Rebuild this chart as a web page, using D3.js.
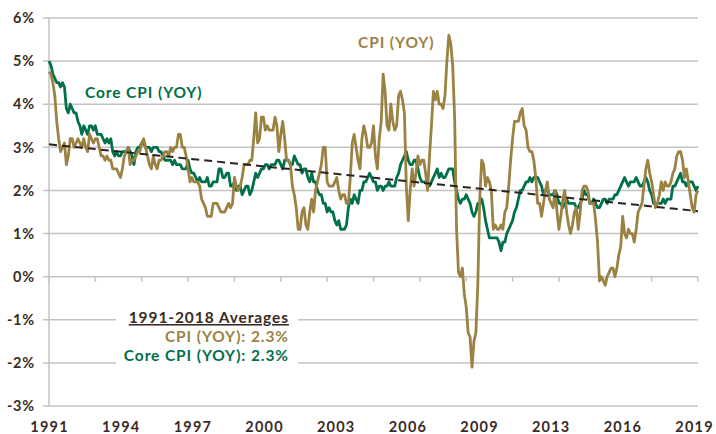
<!DOCTYPE html>
<html><head><meta charset="utf-8">
<script src="https://cdn.jsdelivr.net/npm/d3@7"></script>
<style>
html,body{margin:0;padding:0;background:#fff;}
svg{display:block;font-family:Lato,"Open Sans",sans-serif;font-weight:700;}
</style></head>
<body><svg id="c" width="716" height="434"></svg>
<script>
// Monthly data, Apr 1991 .. Apr 2019 (337 months)
const cpi = [
 4.75,4.7,4.5,4.2,3.6,3.2,2.9,3.0,3.1,
 2.6,2.8,3.2,3.2,3.0,3.1,3.2,3.1,3.0,3.2,3.0,2.9,
 3.3,3.2,3.1,3.2,3.2,3.0,2.8,2.8,2.7,2.8,2.7,2.7,
 2.5,2.5,2.5,2.4,2.3,2.5,2.8,2.9,3.0,2.6,2.7,2.7,
 2.8,2.9,2.9,3.1,3.2,3.0,2.8,2.6,2.5,2.8,2.6,2.5,
 2.7,2.7,2.8,2.9,2.9,2.8,3.0,2.9,3.0,3.0,3.3,3.3,
 3.0,3.0,2.8,2.5,2.2,2.3,2.2,2.2,2.2,2.1,1.8,1.7,
 1.6,1.4,1.4,1.4,1.7,1.7,1.7,1.6,1.5,1.5,1.5,1.6,
 1.7,1.6,1.7,2.3,2.1,2.0,2.1,2.3,2.6,2.6,2.6,2.7,
 2.7,3.2,3.8,3.1,3.2,3.7,3.7,3.4,3.5,3.4,3.4,3.4,
 3.7,3.5,2.9,3.3,3.6,3.2,2.7,2.7,2.6,2.1,1.9,1.6,
 1.1,1.1,1.5,1.6,1.2,1.1,1.5,1.8,1.5,2.0,2.2,2.4,
 2.6,3.0,3.0,2.2,2.1,2.1,2.1,2.2,2.3,2.0,1.8,1.9,
 1.9,1.7,1.7,2.3,3.1,3.3,3.0,2.7,2.5,3.2,3.5,3.3,
 3.0,3.0,3.1,3.5,2.8,2.5,3.2,3.6,4.7,4.3,3.5,3.4,
 4.0,3.6,3.4,3.5,4.2,4.3,4.1,3.8,2.1,1.3,2.0,2.5,
 2.1,2.4,2.8,2.6,2.7,2.7,2.4,2.0,2.8,3.5,4.3,4.1,
 4.3,4.0,4.0,3.9,4.2,5.0,5.6,5.4,4.9,3.7,1.1,0.1,
 0.0,0.2,-0.4,-0.7,-1.3,-1.4,-2.1,-1.5,-1.3,-0.2,1.8,2.7,
 2.6,2.1,2.3,2.2,2.0,1.1,1.2,1.1,1.1,1.2,1.1,1.5,
 1.6,2.1,2.7,3.2,3.6,3.6,3.6,3.8,3.9,3.5,3.4,3.0,
 2.9,2.9,2.7,2.3,1.7,1.7,1.4,1.7,2.0,2.2,1.8,1.7,
 1.6,2.0,1.5,1.1,1.4,1.8,2.0,1.5,1.2,1.0,1.2,1.5,
 1.6,1.1,1.5,2.0,2.1,2.1,2.0,1.7,1.7,1.7,1.3,0.8,
 -0.1,0.0,-0.1,-0.2,0.0,0.1,0.2,0.2,0.0,0.2,0.5,0.7,
 1.4,1.0,0.9,1.1,1.0,1.0,0.8,1.1,1.5,1.6,1.7,2.1,
 2.5,2.7,2.4,2.2,1.9,1.6,1.7,1.9,2.2,2.0,2.2,2.1,
 2.1,2.2,2.4,2.5,2.8,2.9,2.9,2.7,2.3,2.5,2.2,1.9,
 1.6,1.5,1.9,2.0
];
const core = [
 5.0,4.9,4.7,4.6,4.5,4.5,4.4,4.5,4.4,
 3.9,3.8,4.0,3.9,3.8,3.8,3.6,3.5,3.3,3.5,3.4,3.3,
 3.5,3.5,3.4,3.5,3.3,3.3,3.3,3.2,3.1,3.2,3.1,3.2,
 2.9,2.8,2.9,2.8,2.8,2.9,2.9,2.9,3.0,2.9,2.8,2.6,
 2.9,3.0,3.0,3.1,3.1,3.0,3.0,3.0,2.9,3.0,3.0,3.0,
 2.9,2.9,2.8,2.7,2.7,2.7,2.7,2.6,2.7,2.6,2.6,2.6,
 2.5,2.5,2.5,2.7,2.5,2.4,2.4,2.3,2.2,2.3,2.2,2.2,
 2.2,2.3,2.1,2.1,2.2,2.2,2.2,2.5,2.5,2.3,2.3,2.4,
 2.4,2.1,2.1,2.2,2.0,2.1,2.1,1.9,2.0,2.1,2.1,1.9,
 2.0,2.2,2.4,2.3,2.4,2.5,2.5,2.6,2.6,2.5,2.6,2.6,
 2.6,2.7,2.7,2.6,2.5,2.7,2.7,2.7,2.6,2.6,2.8,2.7,
 2.6,2.6,2.4,2.5,2.5,2.3,2.2,2.4,2.2,2.2,2.0,1.9,
 1.9,1.7,1.7,1.5,1.6,1.5,1.5,1.3,1.2,1.3,1.1,1.1,
 1.1,1.2,1.6,1.8,1.7,1.9,1.8,1.7,2.0,2.0,2.2,2.2,
 2.3,2.4,2.3,2.2,2.2,2.0,2.1,2.1,2.0,2.1,2.1,2.2,
 2.1,2.1,2.1,2.3,2.4,2.6,2.7,2.8,2.9,2.7,2.6,2.6,
 2.7,2.7,2.5,2.3,2.2,2.2,2.2,2.1,2.1,2.2,2.3,2.4,
 2.5,2.3,2.4,2.3,2.3,2.4,2.5,2.5,2.5,2.2,2.0,1.8,
 1.7,1.8,1.8,1.9,1.8,1.7,1.5,1.4,1.5,1.7,1.7,1.8,
 1.6,1.3,1.1,0.9,0.9,0.9,0.9,0.9,0.8,0.6,0.8,0.8,
 1.0,1.1,1.2,1.3,1.5,1.6,1.8,2.0,2.0,2.1,2.2,2.2,
 2.3,2.2,2.3,2.3,2.3,2.2,2.1,1.9,2.0,2.0,1.9,1.9,
 1.9,2.0,1.9,1.7,1.7,1.6,1.7,1.8,1.7,1.7,1.7,1.7,
 1.6,1.6,1.7,1.8,2.0,1.9,1.9,1.7,1.7,1.8,1.7,1.6,
 1.6,1.7,1.8,1.8,1.7,1.8,1.8,1.8,1.9,1.9,2.0,2.1,
 2.2,2.3,2.2,2.1,2.2,2.2,2.2,2.3,2.2,2.1,2.1,2.2,
 2.3,2.2,2.0,1.9,1.7,1.7,1.7,1.7,1.7,1.8,1.7,1.8,
 1.8,1.8,2.1,2.1,2.2,2.3,2.4,2.2,2.2,2.1,2.2,2.2,
 2.2,2.1,2.0,2.1
];
const trend = [3.07, 1.52]; // dashed trend line, first and last month
const yTicks = [6,5,4,3,2,1,0,-1,-2,-3];
const yearLabels = ["1991","1994","1997","2000","2003","2006","2009","2013","2016","2019"];
const labelStep = 37.1; // months between category labels
const seriesNames = ["CPI (YOY)","Core CPI (YOY)"];
const avgTitle = "1991-2018 Averages";
const averages = [2.3, 2.3];

const colors = {cpi:"#9b8243", core:"#00704a", trend:"#2b211d", text:"#3a2b25", grid:"#c3c3c3"};
const svg = d3.select("#c");
const n = cpi.length - 1;
const x = d3.scaleLinear().domain([0, n]).range([49, 698]);
const y = d3.scaleLinear().domain([-3, 6]).range([406, 18]);

// gridlines
svg.append("g").selectAll("line").data(yTicks).join("line")
  .attr("x1", 43).attr("x2", 698)
  .attr("y1", d => y(d)).attr("y2", d => y(d))
  .attr("stroke", colors.grid).attr("stroke-width", 1.5);
// y axis line
svg.append("line").attr("x1", x(0)).attr("x2", x(0)).attr("y1", y(6)).attr("y2", y(-3))
  .attr("stroke", colors.grid).attr("stroke-width", 1.5);
// ticks on zero line every 24 months
svg.append("g").selectAll("line").data(d3.range(0, n + 1, 24)).join("line")
  .attr("x1", d => x(d)).attr("x2", d => x(d))
  .attr("y1", y(0)).attr("y2", y(0) + 5)
  .attr("stroke", colors.grid).attr("stroke-width", 1.5);

// y labels
svg.append("g").selectAll("text").data(yTicks).join("text")
  .attr("x", 35).attr("y", d => y(d)).attr("dy", "0.36em")
  .attr("text-anchor", "end").attr("font-size", 14.5).attr("letter-spacing", 0.8)
  .attr("fill", colors.text)
  .text(d => d + "%");
// x labels
svg.append("g").selectAll("text").data(yearLabels).join("text")
  .attr("x", (d, i) => x(i * labelStep) + 0.6)
  .attr("y", 432).attr("text-anchor", "middle").attr("font-size", 14.5)
  .attr("letter-spacing", 1.2).attr("fill", colors.text)
  .text(d => d);

const line = d3.line().x((d, i) => x(i)).y(d => y(d));
svg.append("path").datum(core).attr("d", line).attr("fill", "none")
  .attr("stroke", colors.core).attr("stroke-width", 2.8).attr("stroke-linejoin", "round");
svg.append("path").datum(cpi).attr("d", line).attr("fill", "none")
  .attr("stroke", colors.cpi).attr("stroke-width", 2.8).attr("stroke-linejoin", "round");
svg.append("line").attr("x1", x(0)).attr("x2", x(n)).attr("y1", y(trend[0])).attr("y2", y(trend[1]))
  .attr("stroke", colors.trend).attr("stroke-width", 2).attr("stroke-dasharray", "8,5");

// series labels
svg.append("text").attr("x", 358).attr("y", 47.5)
  .attr("font-size", 15.5).attr("letter-spacing", 0.9).attr("fill", colors.cpi).text(seriesNames[0]);
svg.append("text").attr("x", 85).attr("y", 97.5)
  .attr("font-size", 15.5).attr("letter-spacing", 0.9).attr("fill", colors.core).text(seriesNames[1]);

// averages annotation
svg.append("rect").attr("x", 116).attr("y", 305).attr("width", 182).attr("height", 62).attr("fill", "#fff");
const ax = 288;
const fs = 15.5, ls = 0.9;
svg.append("text").attr("x", ax + ls).attr("y", 323).attr("text-anchor", "end").attr("font-size", fs)
  .attr("letter-spacing", ls).attr("fill", colors.text).attr("text-decoration", "underline").text(avgTitle);
svg.append("text").attr("x", ax + ls).attr("y", 342).attr("text-anchor", "end").attr("font-size", fs)
  .attr("letter-spacing", ls).attr("fill", colors.cpi).text(seriesNames[0] + ": " + averages[0].toFixed(1) + "%");
svg.append("text").attr("x", ax + ls).attr("y", 361).attr("text-anchor", "end").attr("font-size", fs)
  .attr("letter-spacing", ls).attr("fill", colors.core).text(seriesNames[1] + ": " + averages[1].toFixed(1) + "%");
</script></body></html>
